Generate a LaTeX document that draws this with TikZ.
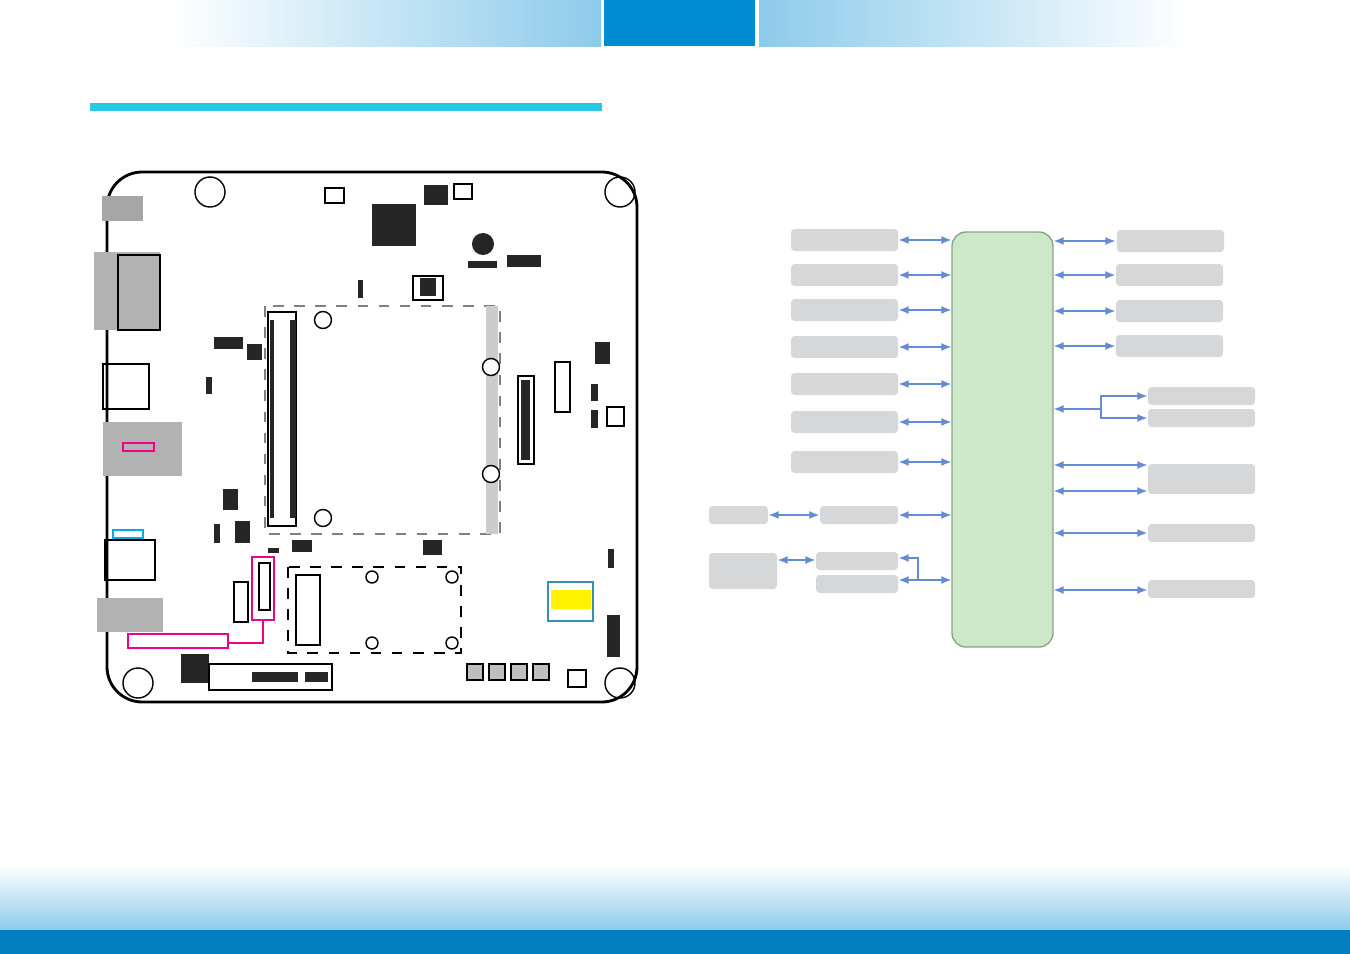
\documentclass[tikz,border=0pt]{standalone}
\usetikzlibrary{positioning,arrows.meta}
\definecolor{hdrblue}{RGB}{0,140,210}
\definecolor{lineblue}{RGB}{100,140,210}
\definecolor{boxgrey}{RGB}{214,215,217}
\definecolor{chipgreen}{RGB}{204,232,200}
\definecolor{cyanline}{RGB}{40,200,230}
\begin{document}
\begin{tikzpicture}[x=0.01cm,y=-0.01cm,
    greybox/.style={fill=boxgrey, draw=none, rounded corners=1pt},
    link/.style={{Latex[length=3pt]}-{Latex[length=3pt]}, draw=lineblue, semithick},
    halflink/.style={-{Latex[length=3pt]}, draw=lineblue, semithick},
    part/.style={fill=black!85, draw=none},
    hole/.style={circle, draw=black, fill=white, inner sep=0pt, minimum size=0.17cm}
    ]
    \useasboundingbox (0,0) rectangle (1350,954);
    %Header and footer
    \shade[left color=white, right color=hdrblue!45] (170,0) rectangle (601,46);
    \fill[hdrblue] (604,0) rectangle (755,46);
    \shade[left color=hdrblue!45, right color=white] (759,0) rectangle (1190,46);
    \draw[cyanline, line width=2pt] (90,107) -- (602,107);
    \shade[top color=white, bottom color=hdrblue!45] (0,865) rectangle (1350,930);
    \fill[hdrblue!90!black] (0,930) rectangle (1350,954);

    %Board
    \draw[thick, rounded corners=10pt, fill=white] (107,172) rectangle (637,702);
    \foreach \hx/\hy in {210/192, 620/192, 138/683, 620/683}
        \node[circle, draw, minimum size=0.3cm, inner sep=0pt] (mh\hx\hy) at (\hx,\hy) {};
    \fill[gray!70] (102,196) rectangle (143,221);
    \fill[gray!60] (94,252) rectangle (160,330);
    \draw (118,255) rectangle (160,330);
    \draw (103,364) rectangle (149,409);
    \fill[gray!60] (103,422) rectangle (182,476);
    \draw[magenta] (123,443) rectangle (154,451);
    \draw[cyan] (113,530) rectangle (143,538);
    \draw (105,540) rectangle (155,580);
    \fill[gray!60] (97,598) rectangle (163,632);
    \draw[magenta] (128,634) rectangle (228,648);
    \draw[magenta] (228,643) -- (263,643) -- (263,620);
    \draw[magenta] (252,557) rectangle (274,620);
    \draw (259,563) rectangle (270,610);
    \draw (234,582) rectangle (248,622);
    %Chips
    \fill[part] (372,204) rectangle (416,246);
    \fill[part] (420,278) rectangle (436,296);
    \draw (413,276) rectangle (443,300);
    \node[circle, fill=black!85, minimum size=0.22cm, inner sep=0pt] (buz) at (483,244) {};
    \fill[part] (468,261) rectangle (497,268);
    \fill[part] (507,255) rectangle (541,267);
    \fill[part] (424,185) rectangle (448,205);
    \draw (454,184) rectangle (472,199);
    \draw (325,188) rectangle (344,203);
    \fill[part] (358,280) rectangle (363,298);
    \fill[part] (214,337) rectangle (243,349);
    \fill[part] (247,344) rectangle (262,360);
    \fill[part] (206,377) rectangle (212,394);
    \fill[part] (223,489) rectangle (238,510);
    \fill[part] (235,521) rectangle (250,543);
    \fill[part] (214,524) rectangle (220,543);
    \fill[part] (268,548) rectangle (279,553);
    \fill[part] (292,540) rectangle (312,552);
    \fill[part] (423,540) rectangle (442,555);
    \fill[part] (181,654) rectangle (209,683);
    \draw (209,664) rectangle (332,690);
    \fill[part] (252,672) rectangle (298,682);
    \fill[part] (305,672) rectangle (328,682);
    %Memory slot
    \draw[dashed, gray] (265,306) rectangle (500,534);
    \fill[gray!40] (486,306) rectangle (498,534);
    \draw (268,312) rectangle (296,526);
    \fill[part] (270,320) rectangle (274,518);
    \fill[part] (290,320) rectangle (296,518);
    \node[hole] (ms1) at (323,320) {};
    \node[hole] (ms2) at (323,518) {};
    \node[hole] (ms3) at (491,367) {};
    \node[hole] (ms4) at (491,474) {};
    \draw (518,376) rectangle (534,464);
    \fill[part] (521,380) rectangle (530,460);
    \draw (555,362) rectangle (570,412);
    \fill[part] (595,342) rectangle (610,364);
    \fill[part] (591,384) rectangle (598,401);
    \fill[part] (591,410) rectangle (598,428);
    \draw (607,407) rectangle (624,426);
    \fill[part] (608,549) rectangle (614,568);
    %Mini PCIe slot
    \draw[dashed] (288,567) rectangle (461,653);
    \draw (296,575) rectangle (320,645);
    \foreach \mx/\my in {372/577, 452/577, 372/643, 452/643}
        \node[circle, draw, minimum size=0.12cm, inner sep=0pt] (mp\mx\my) at (\mx,\my) {};
    \draw[cyan!70!black] (548,582) rectangle (593,621);
    \fill[yellow] (551,590) rectangle (591,609);
    \fill[part] (607,615) rectangle (620,657);
    \foreach \bx in {475,497,519,541}
        \draw[fill=gray!50] (\bx-8,664) rectangle (\bx+8,680);
    \draw (568,670) rectangle (586,687);

    %Block diagram
    \fill[chipgreen, draw=chipgreen!70!black, rounded corners=4pt] (952,232) rectangle (1053,647);
    \foreach \ya/\yb [count=\i] in {229/251, 264/286, 299/321, 336/358, 373/395, 411/433, 451/473}
        \fill[greybox] (791,\ya) rectangle (898,\yb);
    \foreach \y in {240,275,310,347,384,422,462}
        \draw[link] (898,\y) -- (952,\y);
    \fill[greybox] (820,506) rectangle (898,524);
    \fill[greybox] (709,506) rectangle (768,524);
    \draw[link] (898,515) -- (952,515);
    \draw[link] (768,515) -- (820,515);
    \fill[greybox] (709,553) rectangle (777,589);
    \fill[greybox] (816,552) rectangle (898,570);
    \fill[greybox] (816,575) rectangle (898,593);
    \draw[link] (777,560) -- (816,560);
    \draw[link] (898,558) -- (918,558) -- (918,580) -- (952,580);
    \draw[halflink] (918,580) -- (898,580);
    %Right side
    \foreach \ya/\yb/\xa in {230/252/1117, 264/286/1116, 300/322/1116, 335/357/1116}
        \fill[greybox] (\xa,\ya) rectangle (\xa+107,\yb);
    \foreach \y in {241,275,311,346}
        \draw[link] (1053,\y) -- (1116,\y);
    \foreach \ya/\yb in {387/405, 409/427, 464/494, 524/542, 580/598}
        \fill[greybox] (1148,\ya) rectangle (1255,\yb);
    \draw[{Latex[length=3pt]}-, draw=lineblue, semithick] (1053,409) -- (1101,409);
    \draw[halflink] (1101,409) -- (1101,396) -- (1148,396);
    \draw[halflink] (1101,409) -- (1101,418) -- (1148,418);
    \foreach \y in {465,491,533,590}
        \draw[link] (1053,\y) -- (1148,\y);
\end{tikzpicture}
\end{document}
